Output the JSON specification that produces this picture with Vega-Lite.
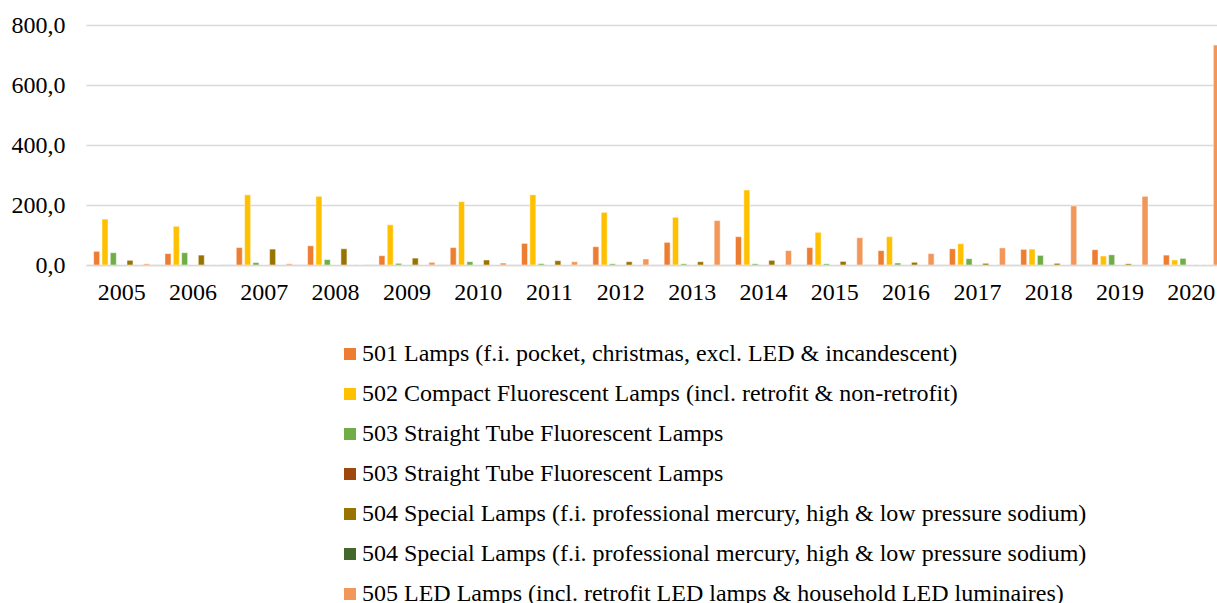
{
  "$schema": "https://vega.github.io/schema/vega-lite/v6.json",
  "width": 1131,
  "height": 240,
  "autosize": {"type": "none"},
  "padding": {"left": 86, "top": 25, "right": 0, "bottom": 338},
  "background": "#ffffff",
  "config": {
    "view": {"stroke": null},
    "font": "Liberation Serif"
  },
  "data": {
    "values": [
      {"year": "2005", "series": "501", "value": 45.5}, {"year": "2005", "series": "502", "value": 153}, {"year": "2005", "series": "503a", "value": 41}, {"year": "2005", "series": "503b", "value": 0}, {"year": "2005", "series": "504a", "value": 15.5}, {"year": "2005", "series": "504b", "value": 0}, {"year": "2005", "series": "505", "value": 4},
      {"year": "2006", "series": "501", "value": 38}, {"year": "2006", "series": "502", "value": 129}, {"year": "2006", "series": "503a", "value": 41}, {"year": "2006", "series": "503b", "value": 0}, {"year": "2006", "series": "504a", "value": 33}, {"year": "2006", "series": "504b", "value": 0}, {"year": "2006", "series": "505", "value": 0},
      {"year": "2007", "series": "501", "value": 58}, {"year": "2007", "series": "502", "value": 234}, {"year": "2007", "series": "503a", "value": 8}, {"year": "2007", "series": "503b", "value": 0}, {"year": "2007", "series": "504a", "value": 53}, {"year": "2007", "series": "504b", "value": 0}, {"year": "2007", "series": "505", "value": 4},
      {"year": "2008", "series": "501", "value": 64}, {"year": "2008", "series": "502", "value": 229}, {"year": "2008", "series": "503a", "value": 18}, {"year": "2008", "series": "503b", "value": 0}, {"year": "2008", "series": "504a", "value": 54}, {"year": "2008", "series": "504b", "value": 0}, {"year": "2008", "series": "505", "value": 0},
      {"year": "2009", "series": "501", "value": 31}, {"year": "2009", "series": "502", "value": 134}, {"year": "2009", "series": "503a", "value": 5.5}, {"year": "2009", "series": "503b", "value": 0}, {"year": "2009", "series": "504a", "value": 23}, {"year": "2009", "series": "504b", "value": 0}, {"year": "2009", "series": "505", "value": 9},
      {"year": "2010", "series": "501", "value": 58}, {"year": "2010", "series": "502", "value": 211}, {"year": "2010", "series": "503a", "value": 11}, {"year": "2010", "series": "503b", "value": 0}, {"year": "2010", "series": "504a", "value": 16.7}, {"year": "2010", "series": "504b", "value": 0}, {"year": "2010", "series": "505", "value": 6.7},
      {"year": "2011", "series": "501", "value": 72}, {"year": "2011", "series": "502", "value": 234}, {"year": "2011", "series": "503a", "value": 4.4}, {"year": "2011", "series": "503b", "value": 0}, {"year": "2011", "series": "504a", "value": 14.4}, {"year": "2011", "series": "504b", "value": 0}, {"year": "2011", "series": "505", "value": 11},
      {"year": "2012", "series": "501", "value": 61}, {"year": "2012", "series": "502", "value": 175.5}, {"year": "2012", "series": "503a", "value": 4}, {"year": "2012", "series": "503b", "value": 0}, {"year": "2012", "series": "504a", "value": 11}, {"year": "2012", "series": "504b", "value": 0}, {"year": "2012", "series": "505", "value": 20},
      {"year": "2013", "series": "501", "value": 75.5}, {"year": "2013", "series": "502", "value": 159}, {"year": "2013", "series": "503a", "value": 4}, {"year": "2013", "series": "503b", "value": 0}, {"year": "2013", "series": "504a", "value": 11}, {"year": "2013", "series": "504b", "value": 0}, {"year": "2013", "series": "505", "value": 148},
      {"year": "2014", "series": "501", "value": 94.4}, {"year": "2014", "series": "502", "value": 250}, {"year": "2014", "series": "503a", "value": 4}, {"year": "2014", "series": "503b", "value": 0}, {"year": "2014", "series": "504a", "value": 15.5}, {"year": "2014", "series": "504b", "value": 0}, {"year": "2014", "series": "505", "value": 48},
      {"year": "2015", "series": "501", "value": 58}, {"year": "2015", "series": "502", "value": 109}, {"year": "2015", "series": "503a", "value": 4}, {"year": "2015", "series": "503b", "value": 0}, {"year": "2015", "series": "504a", "value": 12}, {"year": "2015", "series": "504b", "value": 0}, {"year": "2015", "series": "505", "value": 91},
      {"year": "2016", "series": "501", "value": 48}, {"year": "2016", "series": "502", "value": 94.4}, {"year": "2016", "series": "503a", "value": 6.7}, {"year": "2016", "series": "503b", "value": 0}, {"year": "2016", "series": "504a", "value": 9}, {"year": "2016", "series": "504b", "value": 0}, {"year": "2016", "series": "505", "value": 38},
      {"year": "2017", "series": "501", "value": 54}, {"year": "2017", "series": "502", "value": 71}, {"year": "2017", "series": "503a", "value": 21}, {"year": "2017", "series": "503b", "value": 0}, {"year": "2017", "series": "504a", "value": 5.5}, {"year": "2017", "series": "504b", "value": 0}, {"year": "2017", "series": "505", "value": 57},
      {"year": "2018", "series": "501", "value": 52}, {"year": "2018", "series": "502", "value": 53}, {"year": "2018", "series": "503a", "value": 32}, {"year": "2018", "series": "503b", "value": 0}, {"year": "2018", "series": "504a", "value": 5.5}, {"year": "2018", "series": "504b", "value": 0}, {"year": "2018", "series": "505", "value": 197},
      {"year": "2019", "series": "501", "value": 51}, {"year": "2019", "series": "502", "value": 30}, {"year": "2019", "series": "503a", "value": 34}, {"year": "2019", "series": "503b", "value": 0}, {"year": "2019", "series": "504a", "value": 4}, {"year": "2019", "series": "504b", "value": 0}, {"year": "2019", "series": "505", "value": 229},
      {"year": "2020", "series": "501", "value": 33}, {"year": "2020", "series": "502", "value": 16.7}, {"year": "2020", "series": "503a", "value": 22}, {"year": "2020", "series": "503b", "value": 0}, {"year": "2020", "series": "504a", "value": 0}, {"year": "2020", "series": "504b", "value": 0}, {"year": "2020", "series": "505", "value": 733}
    ]
  },
  "mark": {"type": "bar", "clip": true, "stroke": "#ffffff", "strokeWidth": 0.8, "strokeOpacity": 0.6},
  "encoding": {
    "x": {
      "field": "year",
      "type": "nominal",
      "scale": {"range": [0, 1141], "paddingInner": 0.182, "paddingOuter": 0.091},
      "axis": {
        "title": null,
        "labelAngle": 0,
        "ticks": false,
        "domainColor": "#D9D9D9",
        "domainWidth": 1.5,
        "labelPadding": 15,
        "labelFont": "Liberation Serif",
        "labelFontSize": 24,
        "labelColor": "#000000"
      }
    },
    "xOffset": {
      "field": "series",
      "type": "nominal",
      "scale": {"domain": ["501", "502", "503a", "503b", "504a", "504b", "505"], "paddingInner": 0.28, "paddingOuter": 0.14}
    },
    "y": {
      "field": "value",
      "type": "quantitative",
      "scale": {"domain": [0, 800], "nice": false},
      "axis": {
        "title": null,
        "values": [0, 200, 400, 600, 800],
        "domain": false,
        "ticks": false,
        "labelPadding": 21,
        "labelFont": "Liberation Serif",
        "labelFontSize": 24,
        "labelColor": "#000000",
        "gridColor": "#D9D9D9",
        "gridWidth": 1.3,
        "labelExpr": "replace(format(datum.value, '.1f'), '.', ',')"
      }
    },
    "color": {
      "field": "series",
      "type": "nominal",
      "scale": {
        "domain": ["501", "502", "503a", "503b", "504a", "504b", "505"],
        "range": ["#ED7D31", "#FFC000", "#70AD47", "#9E480E", "#997300", "#43682B", "#F1975A"]
      },
      "legend": {
        "title": null,
        "orient": "none",
        "legendX": 252,
        "legendY": 317,
        "direction": "vertical",
        "symbolType": "square",
        "symbolSize": 144,
        "symbolStrokeWidth": 0,
        "labelOffset": 0,
        "rowPadding": 16,
        "padding": 0,
        "labelLimit": 1000,
        "labelFont": "Liberation Serif",
        "labelFontSize": 24,
        "labelColor": "#000000",
        "labelExpr": "datum.value == '501' ? '501 Lamps (f.i. pocket, christmas, excl. LED & incandescent)' : datum.value == '502' ? '502 Compact Fluorescent Lamps (incl. retrofit & non-retrofit)' : (datum.value == '503a' || datum.value == '503b') ? '503 Straight Tube Fluorescent Lamps' : (datum.value == '504a' || datum.value == '504b') ? '504 Special Lamps (f.i. professional mercury, high & low pressure sodium)' : '505 LED Lamps (incl. retrofit LED lamps & household LED luminaires)'"
      }
    }
  }
}
